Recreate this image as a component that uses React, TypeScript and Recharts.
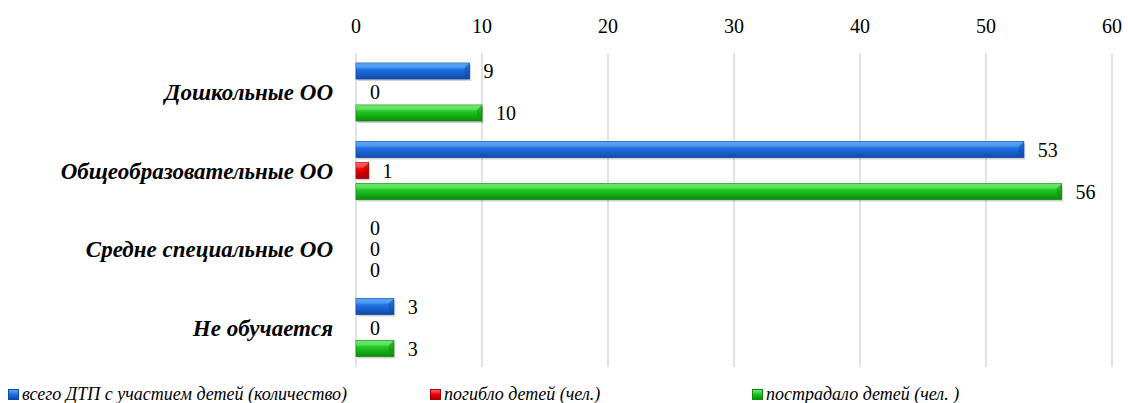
import React from 'react';
import { BarChart, Bar, XAxis, YAxis, CartesianGrid, Legend, LabelList } from 'recharts';

const categories = ['Дошкольные ОО', 'Общеобразовательные ОО', 'Средне специальные ОО', 'Не обучается'];
const totalAccidents = [9, 53, 0, 3];
const childrenKilled = [0, 1, 0, 0];
const childrenInjured = [10, 56, 0, 3];
const xTicks = [0, 10, 20, 30, 40, 50, 60];

const SERIES_NAMES = {
  total: 'всего ДТП с участием детей (количество)',
  killed: 'погибло детей (чел.)',
  injured: 'пострадало детей (чел. )',
};

const data = categories.map((name, i) => ({
  name,
  total: totalAccidents[i],
  killed: childrenKilled[i],
  injured: childrenInjured[i],
}));

const SERIF = 'Liberation Serif, DejaVu Serif, serif';

const PALETTE = {
  total: { light: '#5aa6f7', main: '#1f6fe0', dark: '#0f4aa8' },
  killed: { light: '#ff6060', main: '#f00000', dark: '#a80000' },
  injured: { light: '#6ee86e', main: '#1fc41f', dark: '#0e8a0e' },
};

type Key = keyof typeof PALETTE;

const makeShape = (key: Key) => (props: any) => {
  const { x, y, width, height } = props;
  if (!width || width <= 0) return <g />;
  const c = PALETTE[key];
  const b = Math.min(5, width / 2, height / 3);
  return (
    <g>
      <rect x={x + 1.5} y={y + 2} width={width} height={height} fill="#000" opacity={0.18} />
      <rect x={x} y={y} width={width} height={height} fill={`url(#grad-${key})`} stroke={c.dark} strokeWidth={0.8} />
      <polygon
        points={`${x},${y} ${x + width},${y} ${x + width - b},${y + b} ${x},${y + b}`}
        fill={c.light}
        opacity={0.6}
      />
      <polygon
        points={`${x + width},${y} ${x + width},${y + height} ${x + width - b},${y + height - b} ${x + width - b},${y + b}`}
        fill={c.dark}
        opacity={0.45}
      />
    </g>
  );
};

const LEGEND_LEFT = [8, 430, 752];

const renderLegend = (props: any) => {
  const { payload } = props;
  return (
    <div style={{ position: 'relative', height: 30, width: 1128 }}>
      {(payload || []).map((entry: any, i: number) => {
        const c = PALETTE[entry.dataKey as Key];
        return (
          <div
            key={entry.dataKey}
            style={{
              position: 'absolute',
              left: LEGEND_LEFT[i],
              top: 0,
              height: 30,
              display: 'flex',
              alignItems: 'center',
              fontFamily: SERIF,
              fontStyle: 'italic',
              fontSize: 18,
              color: '#000',
              whiteSpace: 'nowrap',
            }}
          >
            <span
              style={{
                display: 'inline-block',
                width: 9,
                height: 9,
                marginRight: 3,
                background: `linear-gradient(${c.light}, ${c.main} 50%, ${c.dark})`,
                border: `0.5px solid ${c.dark}`,
              }}
            />
            {entry.value}
          </div>
        );
      })}
    </div>
  );
};

export default function App() {
  return (
    <div style={{ position: 'absolute', left: 0, top: 0, width: 1128, height: 403, background: '#fff', fontFamily: SERIF }}>
      <BarChart
        width={1128}
        height={403}
        data={data}
        layout="vertical"
        margin={{ top: 0, right: 16, bottom: 6, left: 0 }}
        barGap={5}
        barSize={16}
        style={{ fontFamily: SERIF }}
      >
        <defs>
          {(Object.keys(PALETTE) as Key[]).map((k) => (
            <linearGradient key={k} id={`grad-${k}`} x1="0" y1="0" x2="0" y2="1">
              <stop offset="0%" stopColor={PALETTE[k].light} />
              <stop offset="45%" stopColor={PALETTE[k].main} />
              <stop offset="100%" stopColor={PALETTE[k].dark} />
            </linearGradient>
          ))}
        </defs>
        <CartesianGrid horizontal={false} stroke="#d9d9d9" strokeWidth={1.5} />
        <XAxis
          type="number"
          orientation="top"
          domain={[0, 60]}
          ticks={xTicks}
          height={53}
          axisLine={false}
          tickLine={false}
          tickSize={6}
          tickMargin={14}
          tick={{ fill: '#000', fontSize: 20, fontFamily: SERIF }}
        />
        <YAxis
          type="category"
          dataKey="name"
          width={356}
          axisLine={false}
          tickLine={false}
          tickSize={6}
          tickMargin={17}
          tick={{ fill: '#000', fontSize: 23, fontFamily: SERIF, fontStyle: 'italic', fontWeight: 'bold' }}
        />
        <Legend
          verticalAlign="bottom"
          height={30}
          content={renderLegend}
          wrapperStyle={{ bottom: -6, left: 0 }}
        />
        {(['total', 'killed', 'injured'] as Key[]).map((k) => (
          <Bar
            key={k}
            dataKey={k}
            name={SERIES_NAMES[k]}
            fill={PALETTE[k].main}
            shape={makeShape(k)}
            isAnimationActive={false}
          >
            <LabelList
              dataKey={k}
              position="right"
              offset={14}
              fill="#000"
              fontSize={20}
              fontFamily={SERIF}
            />
          </Bar>
        ))}
      </BarChart>
    </div>
  );
}
